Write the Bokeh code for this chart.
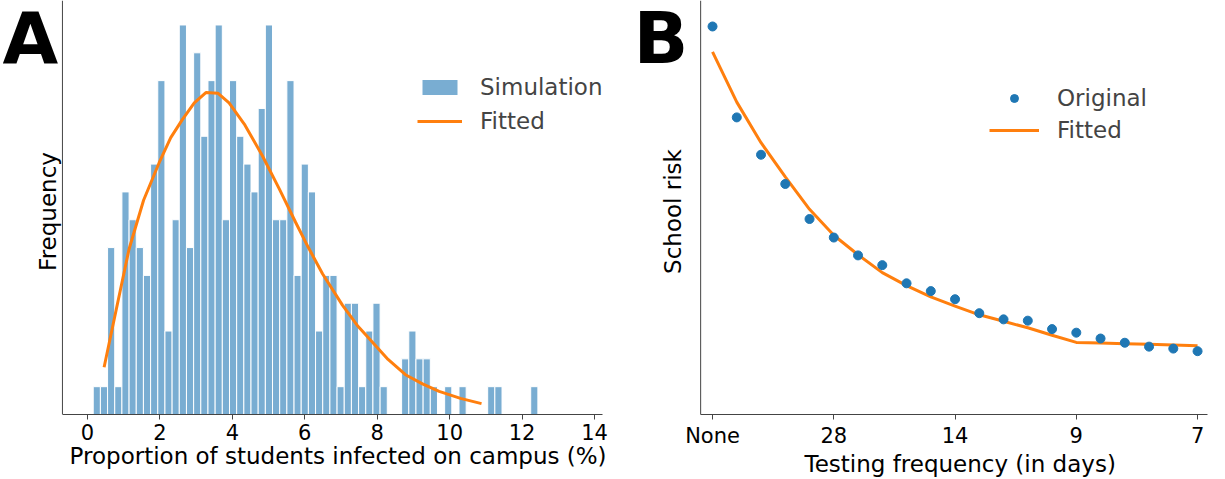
import math
from bokeh.plotting import figure
from bokeh.layouts import row
from bokeh.models import Legend, LegendItem, FixedTicker, Label, Span
from bokeh.embed import file_html
from bokeh.resources import INLINE

# Panel A: histogram
bin_start = 0.16
bin_width = 0.198
counts = [1, 1, 6, 1, 8, 7, 6, 5, 9, 12, 3, 7, 14, 6, 13, 10, 12, 14, 7, 12,
          10, 9, 8, 11, 14, 7, 7, 12, 5, 9, 8, 3, 5, 5, 1, 4, 4, 1, 3, 4,
          1, 0, 0, 2, 3, 2, 2, 1, 0, 1, 0, 1, 0, 0, 0, 1, 1, 0, 0, 0, 0, 1]
fit_x = [0.46, 0.8, 1.15, 1.55, 1.98, 2.3, 2.62, 2.95, 3.27, 3.6, 3.91, 4.35, 4.83, 5.3, 5.75,
         6.1, 6.49, 7.04, 7.45, 7.87, 8.3, 8.78, 9.25, 9.71, 10.3, 10.88]
fit_y = [1.7, 3.8, 5.95, 7.7, 9.05, 9.95, 10.6, 11.2, 11.57, 11.55, 11.2, 10.4, 9.3, 8.1, 6.9,
         6.0, 5.06, 3.93, 3.2, 2.6, 1.98, 1.43, 1.1, 0.83, 0.58, 0.39]

# Panel B
freq_idx = list(range(21))
risk_orig = [1.195, 0.915, 0.800, 0.710, 0.602, 0.545, 0.490, 0.460, 0.404, 0.380, 0.355,
             0.312, 0.293, 0.289, 0.263, 0.252, 0.234, 0.221, 0.209, 0.203, 0.195]
risk_fit = [1.117, 0.962, 0.837, 0.732, 0.632, 0.552, 0.492, 0.437, 0.397, 0.362, 0.334,
            0.307, 0.287, 0.267, 0.244, 0.222, 0.220, 0.218, 0.216, 0.214, 0.212]
tick_pos = [0, 5, 10, 15, 20]
tick_labels = ["None", "28", "14", "9", "7"]

FONT = "DejaVu Sans"
BLUE = "#1f77b4"
ORANGE = "#ff7f0e"
SPINE = "#444444"
NB = "\u00a0"

def style(p, x0, x1, ylabel, ylab_x, letter, letter_x):
    p.xgrid.visible = False
    p.ygrid.visible = False
    p.outline_line_color = None
    ax = p.xaxis
    ax.bounds = (x0, x1)
    ax.axis_label_text_font = FONT
    ax.axis_label_text_font_style = "normal"
    ax.axis_label_text_font_size = "23px"
    ax.axis_label_text_color = "black"
    ax.major_label_text_font = FONT
    ax.major_label_text_font_size = "21px"
    ax.major_label_text_color = "black"
    ax.axis_line_color = SPINE
    ax.major_tick_line_color = SPINE
    ax.minor_tick_line_color = None
    ax.major_tick_out = 5
    ax.major_tick_in = 0
    ax.axis_label_standoff = 0
    ax.major_label_standoff = 4
    p.add_layout(Span(location=x0, dimension="height", line_color=SPINE, line_width=1))
    p.add_layout(Label(x=ylab_x, y=203, x_units="screen", y_units="screen", text=ylabel,
                       angle=math.pi / 2, text_align="center", text_baseline="middle",
                       text_font=FONT, text_font_size="23px", text_color="black"))
    p.add_layout(Label(x=letter_x, y=419, x_units="screen", y_units="screen", text=letter,
                       text_baseline="top", text_font=FONT, text_font_style="bold",
                       text_font_size="72px", text_color="black"))

H = 479
pa = figure(width=632, height=H, output_backend="svg", toolbar_location=None,
            x_range=(-2.40, 14.22), y_range=(0, 14.88), y_axis_location=None,
            min_border_left=0, min_border_right=30, min_border_top=0, min_border_bottom=51)
lefts = [bin_start + i * bin_width for i in range(len(counts))]
rights = [l + bin_width for l in lefts]
bars = pa.quad(left=lefts, right=rights, bottom=0, top=counts, fill_color=BLUE,
               fill_alpha=0.6, line_color="white", line_width=1)
ln = pa.line(fit_x, fit_y, line_color=ORANGE, line_width=3)
pa.xaxis.ticker = FixedTicker(ticks=[0, 2, 4, 6, 8, 10, 12, 14])
pa.xaxis.axis_label = NB * 10 + "Proportion of students infected on campus (%)"
style(pa, -0.69, 14.22, "Frequency", 47, "A", 2)
la = Legend(items=[LegendItem(label="Simulation", renderers=[bars]),
                   LegendItem(label="Fitted", renderers=[ln])],
            location=(417, 280), border_line_color=None, background_fill_alpha=0,
            label_text_font=FONT, label_text_font_size="23px", glyph_width=45,
            label_standoff=18, spacing=8)
pa.add_layout(la)

pb = figure(width=577, height=H, output_backend="svg", toolbar_location=None,
            x_range=(-3.30, 20.41), y_range=(0, 1.275), y_axis_location=None,
            min_border_left=0, min_border_right=2, min_border_top=0, min_border_bottom=51)
lb = pb.line(freq_idx, risk_fit, line_color=ORANGE, line_width=3)
sb = pb.scatter(freq_idx, risk_orig, size=9, fill_color=BLUE, line_color=BLUE)
pb.xaxis.ticker = FixedTicker(ticks=tick_pos)
pb.xaxis.major_label_overrides = {t: s for t, s in zip(tick_pos, tick_labels)}
pb.xaxis.axis_label = NB * 11 + "Testing frequency (in days)"
style(pb, -0.49, 20.41, "School risk", 40, "B", 1)
lgb = Legend(items=[LegendItem(label="Original", renderers=[sb]),
                    LegendItem(label="Fitted", renderers=[lb])],
             location=(357, 271), border_line_color=None, background_fill_alpha=0,
             label_text_font=FONT, label_text_font_size="23px", glyph_width=50,
             label_standoff=18, spacing=6)
pb.add_layout(lgb)

layout = row(pa, pb, spacing=0)
open("out.html", "w").write(file_html(layout, INLINE))
